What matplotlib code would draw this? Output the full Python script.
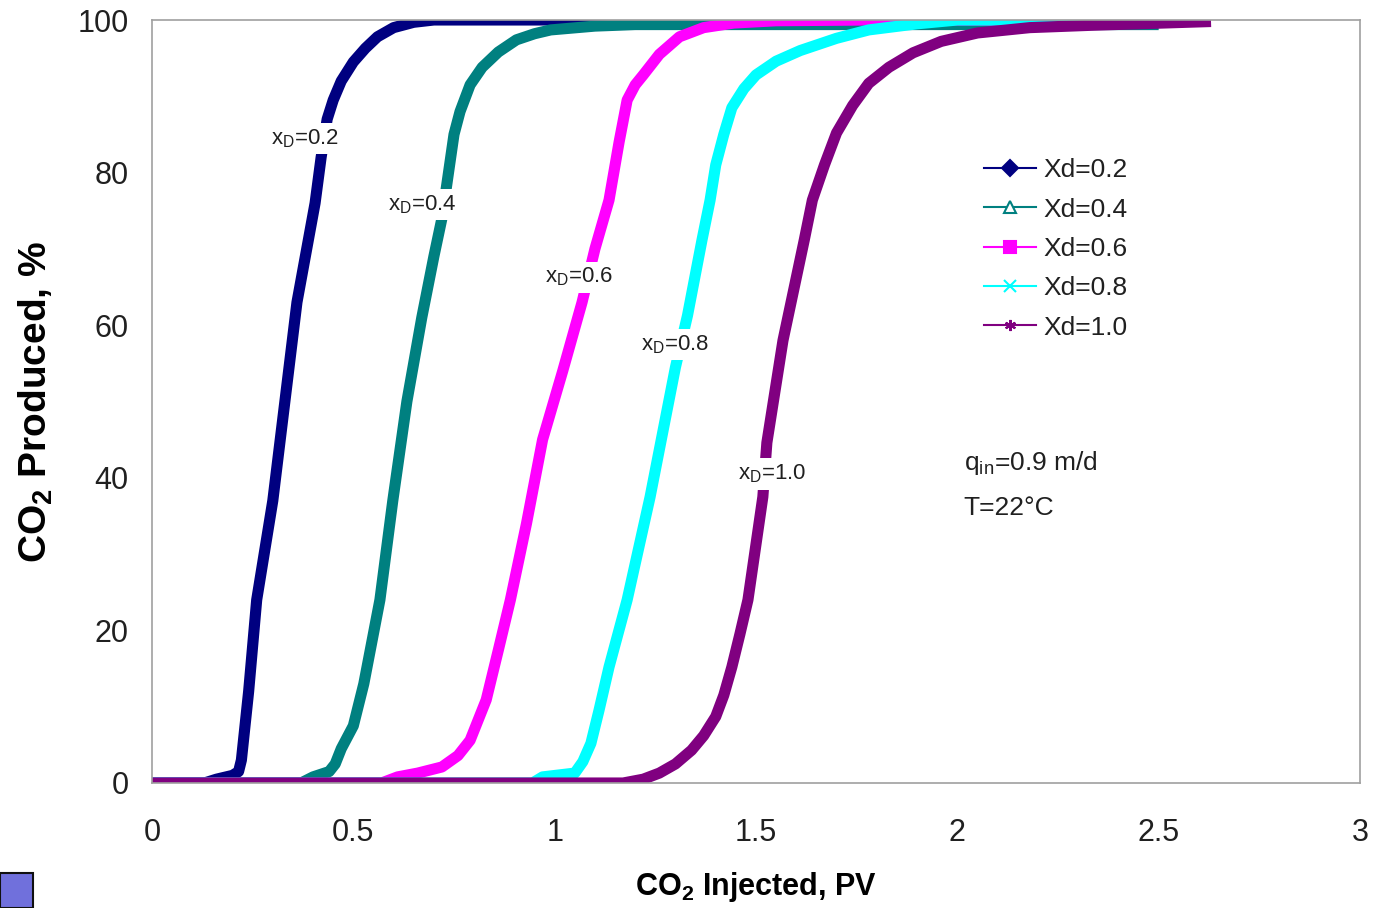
import matplotlib
matplotlib.use("Agg")
import matplotlib.pyplot as plt
from matplotlib.lines import Line2D
from matplotlib.patches import Rectangle

plt.rcParams['font.family'] = ['Liberation Sans', 'DejaVu Sans']

# ---- data ----
x_02 = [0, 0.13, 0.16, 0.20, 0.215, 0.222, 0.23, 0.24, 0.25, 0.26, 0.30, 0.33, 0.36, 0.405, 0.42, 0.435,
        0.45, 0.47, 0.50, 0.53, 0.56, 0.60, 0.65, 0.70, 1.0, 2.5]
y_02 = [0, 0, 0.5, 1.0, 1.5, 3.0, 7, 12, 18, 24, 37, 50, 63, 76, 82, 87,
        89.5, 92, 94.5, 96.3, 97.8, 99, 99.7, 100, 100, 100]

x_04 = [0, 0.37, 0.40, 0.44, 0.455, 0.47, 0.50, 0.526, 0.566, 0.598, 0.633, 0.67, 0.70, 0.72, 0.735,
        0.75, 0.765, 0.79, 0.82, 0.86, 0.905, 0.95, 0.99, 1.1, 1.2, 2.5]
y_04 = [0, 0, 0.8, 1.5, 2.5, 4.5, 7.5, 13, 24, 37, 50, 61, 69, 74, 79.5,
        85, 88, 91.5, 93.8, 95.8, 97.4, 98.2, 98.7, 99.2, 99.4, 99.4]

x_06 = [0, 0.57, 0.61, 0.66, 0.72, 0.76, 0.79, 0.83, 0.86, 0.89, 0.93, 0.97, 1.02, 1.068, 1.10, 1.135,
        1.16, 1.18, 1.20, 1.22, 1.26, 1.31, 1.37, 1.445, 1.55, 1.78, 2.5]
y_06 = [0, 0, 0.8, 1.3, 2.1, 3.6, 5.6, 10.9, 17.4, 24, 34, 45, 54, 63, 70, 76.4,
        84, 89.5, 91.5, 92.8, 95.5, 97.8, 99, 99.6, 99.9, 100, 100]

x_08 = [0, 0.945, 0.97, 1.05, 1.07, 1.09, 1.11, 1.135, 1.18, 1.237, 1.30, 1.33, 1.366, 1.386,
        1.40, 1.42, 1.44, 1.47, 1.50, 1.55, 1.61, 1.70, 1.78, 1.90, 2.0, 2.5]
y_08 = [0, 0, 0.8, 1.3, 2.8, 5.2, 9.5, 15.2, 24, 37.5, 54.5, 61.3, 71.2, 76.4,
        81, 85, 88.5, 91, 92.8, 94.6, 96, 97.6, 98.7, 99.5, 100, 100]

x_10 = [0, 1.17, 1.22, 1.26, 1.30, 1.34, 1.37, 1.40, 1.42, 1.44, 1.46, 1.48, 1.517, 1.527, 1.567, 1.62,
        1.64, 1.67, 1.70, 1.74, 1.78, 1.83, 1.89, 1.96, 2.05, 2.18, 2.33, 2.63]
y_10 = [0, 0, 0.5, 1.3, 2.5, 4.3, 6.2, 8.7, 11.5, 15.2, 19.5, 24, 37.5, 44.6, 58, 71.2,
        76.4, 81, 85.2, 88.8, 91.7, 93.8, 95.7, 97.2, 98.3, 99, 99.3, 99.8]

series_labels = ["Xd=0.2", "Xd=0.4", "Xd=0.6", "Xd=0.8", "Xd=1.0"]
curve_labels = ["0.2", "0.4", "0.6", "0.8", "1.0"]
label_pos_x = [0.38, 0.67, 1.06, 1.30, 1.54]
label_pos_y = [84.5, 75.8, 66.3, 57.5, 40.5]
x_ticks = [0, 0.5, 1, 1.5, 2, 2.5, 3]
x_tick_labels = ["0", "0.5", "1", "1.5", "2", "2.5", "3"]
y_ticks = [0, 20, 40, 60, 80, 100]

colors = ["#000080", "#008080", "#FF00FF", "#00FFFF", "#800080"]
markers = ["D", "^", "s", "x", (6, 2, 0)]
xs = [x_02, x_04, x_06, x_08, x_10]
ys = [y_02, y_04, y_06, y_08, y_10]

fig = plt.figure(figsize=(13.78, 9.08), dpi=100)
ax = fig.add_axes([152/1378, 1-783/908, (1360-152)/1378, (783-20)/908])

for x, y, c in zip(xs, ys, colors):
    ax.plot(x, y, color=c, lw=8, solid_capstyle='butt', solid_joinstyle='round', zorder=2)

for lab, lx, ly in zip(curve_labels, label_pos_x, label_pos_y):
    ax.text(lx, ly, r"x$_\mathregular{D}$=" + lab, fontsize=16, ha='center', va='center',
            color='#202020', zorder=5,
            bbox=dict(facecolor='white', edgecolor='none', pad=3))

ax.set_xlim(0, 3)
ax.set_ylim(0, 100)
ax.set_xticks(x_ticks)
ax.set_xticklabels(x_tick_labels)
ax.set_yticks(y_ticks)
ax.tick_params(length=0, labelsize=22, colors='#202020')
ax.tick_params(axis='x', pad=25)
ax.tick_params(axis='y', pad=17)
for s in ax.spines.values():
    s.set_color('#A0A0A0')
    s.set_linewidth(1.2)

ax.set_xlabel(r"CO$_\mathregular{2}$ Injected, PV", fontsize=22, fontweight='bold', labelpad=16)
ax.set_ylabel(r"CO$_\mathregular{2}$ Produced, %", fontsize=28, fontweight='bold', labelpad=16)

handles = []
for c, m in zip(colors, markers):
    mfc = 'white' if m == '^' else c
    handles.append(Line2D([0], [0], color=c, lw=1.5, marker=m, markersize=8,
                          markerfacecolor=mfc, markeredgecolor=c, markeredgewidth=1.5))
leg = ax.legend(handles, series_labels, loc='upper left', bbox_to_anchor=(0.68, 0.8325),
                frameon=False, fontsize=19, handlelength=1.97, handletextpad=0.3,
                labelspacing=0.58, borderaxespad=0)
for t in leg.get_texts():
    t.set_color('#202020')

ax.text(0.672, 0.42, r"q$_\mathregular{in}$=0.9 m/d", transform=ax.transAxes, fontsize=19,
        ha='left', va='center', color='#202020')
ax.text(0.672, 0.36, "T=22°C", transform=ax.transAxes, fontsize=19,
        ha='left', va='center', color='#202020')

fig.patches.append(Rectangle((0, 0), 33/1378, 35/908, transform=fig.transFigure,
                             facecolor='#7070DC', edgecolor='#101010', lw=1.5, zorder=10))

fig.savefig("out.png", dpi=100)
